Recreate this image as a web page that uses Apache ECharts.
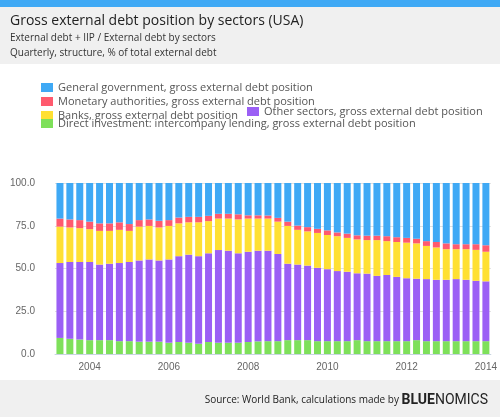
<!DOCTYPE html>
<html lang="en">
<head>
  <meta charset="utf-8">
  <title>Gross external debt position by sectors (USA)</title>
  <script src="https://fastly.jsdelivr.net/npm/echarts@6.0.0/dist/echarts.min.js"></script>
  <style>
    * { margin: 0; padding: 0; }
    #chart { width: 500px; height: 417px; }
  </style>
</head>
<body>
  <div id="chart"></div>
  <script>
    // quarters 2003Q2 .. 2014Q1
    var quarters = [];
    for (var y = 2003; y <= 2014; y++) {
      ['01', '04', '07', '10'].forEach(function (m) { quarters.push(y + '-' + m); });
    }
    quarters = quarters.slice(1, 45);

    // cumulative top boundaries (% of total)
    var directTop = [9.4, 8.9, 8.5, 8.1, 8.1, 8.1, 7.5, 7.5, 7.2, 7.2, 7.2, 6.6, 7.0, 6.6, 6.0, 7.0, 6.6, 6.6, 6.6, 7.0, 7.4,
      7.5, 7.5, 8.1, 8.1, 8.1, 7.5, 7.5, 7.5, 7.5, 8.1, 7.5, 7.5, 7.5, 7.5, 7.5, 8.1, 7.5, 7.5, 7.5, 7.5, 7.5, 7.5, 7.5];
    var otherTop = [53.2, 53.8, 53.8, 53.8, 52.3, 52.8, 53.2, 53.8, 54.7, 55.3, 54.7, 55.3, 57.2, 58.1, 57.2, 58.9, 60.8, 60.4, 58.9, 59.8, 60.4,
      60.4, 58.5, 52.8, 52.3, 51.7, 50.4, 49.6, 48.5, 48.1, 47.2, 47.0, 45.7, 46.2, 45.1, 44.3, 44.0, 43.8, 43.4, 43.4, 43.8, 43.4, 42.8, 42.5];
    var banksTop = [74.5, 74.0, 73.6, 73.0, 72.0, 72.0, 72.6, 72.0, 74.5, 74.9, 74.0, 74.9, 76.4, 77.0, 77.0, 77.7, 79.2, 79.2, 78.7, 79.2, 79.2,
      79.2, 77.4, 74.9, 72.6, 71.7, 70.8, 69.6, 68.9, 67.9, 67.0, 66.6, 66.6, 66.0, 65.5, 65.1, 64.7, 63.2, 62.3, 61.3, 61.3, 61.3, 60.9, 59.8];
    var monetaryTop = [79.2, 78.7, 78.3, 77.4, 76.4, 76.4, 77.0, 76.0, 78.3, 78.7, 77.9, 78.3, 79.8, 80.2, 80.2, 80.8, 82.0, 82.0, 81.7, 81.1, 81.1,
      81.0, 79.6, 77.4, 75.1, 74.2, 73.2, 72.3, 71.1, 70.4, 69.4, 69.2, 69.2, 68.9, 68.3, 67.9, 67.4, 66.0, 65.5, 64.7, 64.2, 64.2, 64.2, 63.6];

    function diff(top, bottom) {
      return top.map(function (v, i) { return +(v - (bottom ? bottom[i] : 0)).toFixed(1); });
    }
    var direct = diff(directTop);
    var other = diff(otherTop, directTop);
    var banks = diff(banksTop, otherTop);
    var monetary = diff(monetaryTop, banksTop);
    var government = monetaryTop.map(function (v) { return +(100 - v).toFixed(1); });

    var names = {
      gov: 'General government, gross external debt position',
      mon: 'Monetary authorities, gross external debt position',
      bank: 'Banks, gross external debt position',
      other: 'Other sectors, gross external debt position',
      direct: 'Direct investment: intercompany lending, gross external debt position'
    };

    var chart = echarts.init(document.getElementById('chart'));
    var legendBase = {
      orient: 'vertical', itemWidth: 12, itemHeight: 9, itemGap: 3,
      icon: 'rect', textStyle: { fontSize: 11, color: '#555', fontFamily: 'Open Sans' }
    };
    function bar(name, data, color) {
      return { name: name, type: 'bar', stack: 'all', data: data, barWidth: 7, itemStyle: { color: color } };
    }

    chart.setOption({
      animation: false,
      graphic: [
        { type: 'rect', left: 0, top: 0, shape: { width: 500, height: 7 }, style: { fill: '#3fa9f5' } },
        { type: 'rect', left: 0, top: 7, shape: { width: 500, height: 57 }, style: { fill: '#f0f0f0' } },
        { type: 'rect', left: 0, top: 380, shape: { width: 500, height: 37 }, style: { fill: '#f0f0f0' } },
        { type: 'text', left: 10, top: 14, style: { text: 'Gross external debt position by sectors (USA)', font: '14px "Open Sans"', fill: '#222' } },
        { type: 'text', left: 10, top: 33, style: { text: 'External debt + IIP / External debt by sectors', font: '10px "Open Sans"', fill: '#333' } },
        { type: 'text', left: 10, top: 48, style: { text: 'Quarterly, structure, % of total external debt', font: '10px "Open Sans"', fill: '#333' } },
        { type: 'text', right: 12, top: 393, style: {
          text: '{a|Source: World Bank, calculations made by }{b|BLUE}{c|NOMICS}',
          rich: {
            a: { fontSize: 10, fontFamily: 'Open Sans', fill: '#222' },
            b: { fontSize: 14, fontWeight: 'bold', fontFamily: 'Roboto', fill: '#222' },
            c: { fontSize: 14, fontFamily: 'Roboto', fill: '#222' }
          } } }
      ],
      legend: [
        Object.assign({ left: 36, top: 77, data: [names.gov, names.mon, names.bank] }, legendBase),
        Object.assign({ left: 242, top: 101, data: [names.other] }, legendBase),
        Object.assign({ left: 36, top: 113, data: [names.direct] }, legendBase)
      ],
      grid: { left: 55, right: 8, top: 183, bottom: 63 },
      xAxis: {
        type: 'category', data: quarters,
        axisLine: { lineStyle: { color: '#c8d4e0' } },
        axisTick: {
          alignWithLabel: true, length: 5, lineStyle: { color: '#c8d4e0' },
          interval: function (i, v) { return /-01$/.test(v) && +v.slice(0, 4) % 2 === 0; }
        },
        axisLabel: {
          color: '#666', fontSize: 10, margin: 8,
          interval: function (i, v) { return /-01$/.test(v) && +v.slice(0, 4) % 2 === 0; },
          formatter: function (v) { return v.slice(0, 4); }
        }
      },
      yAxis: {
        type: 'value', min: 0, max: 100, interval: 25,
        axisLabel: { color: '#666', fontSize: 10, margin: 20, formatter: function (v) { return v.toFixed(1); } },
        splitLine: { lineStyle: { color: '#e0e0e0' } }
      },
      series: [
        bar(names.direct, direct, '#7ee05a'),
        bar(names.other, other, '#9b5ff5'),
        bar(names.bank, banks, '#ffe033'),
        bar(names.mon, monetary, '#ff5a6e'),
        bar(names.gov, government, '#3fa9f5')
      ]
    });
  </script>
</body>
</html>
